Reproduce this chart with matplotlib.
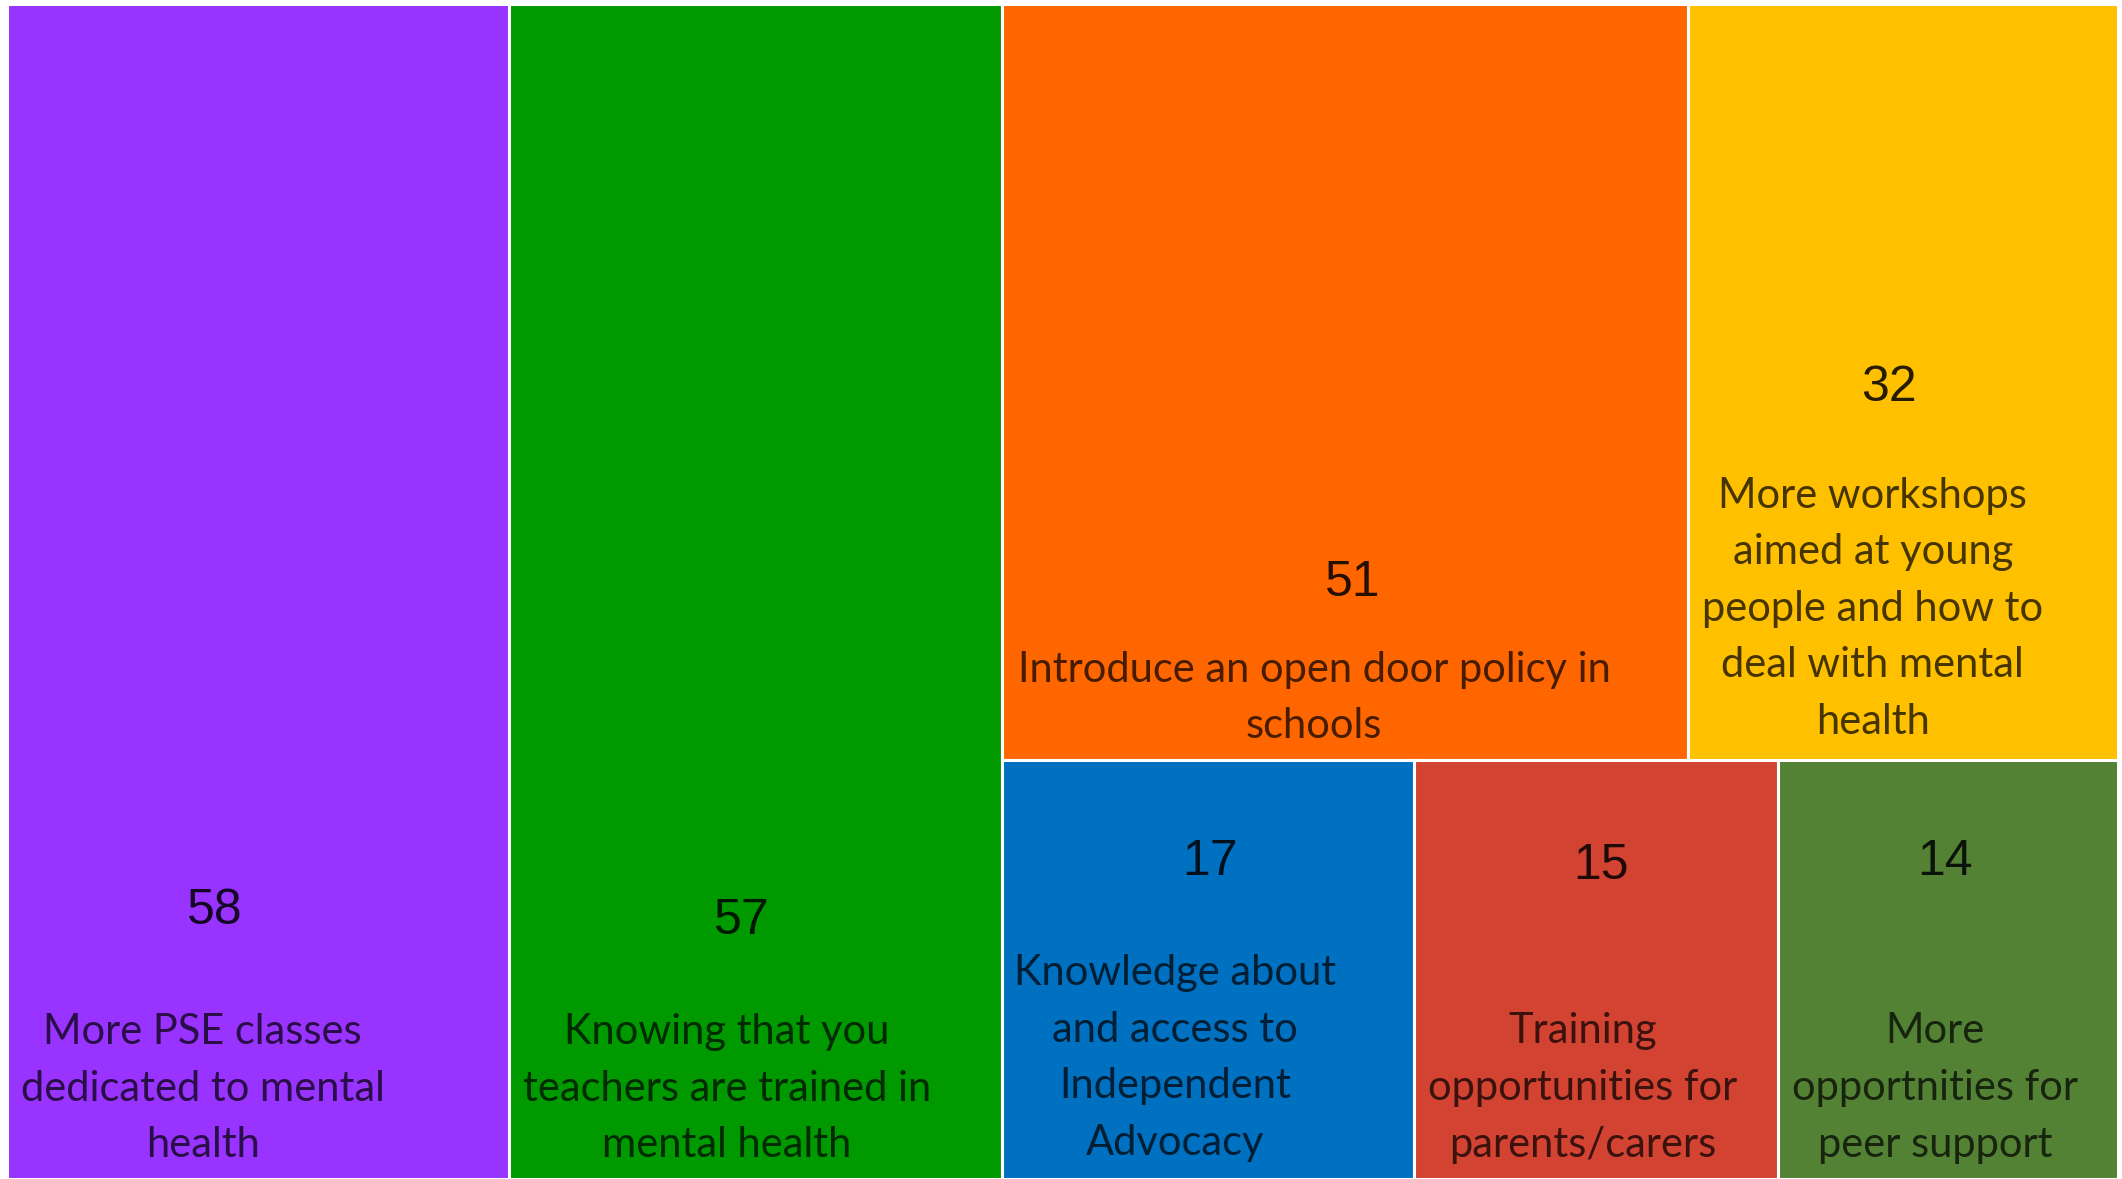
import matplotlib.pyplot as plt
from matplotlib.patches import Rectangle

# Data
values = [58, 57, 51, 32, 17, 15, 14]
labels = [
    'More PSE classes\ndedicated to mental\nhealth',
    'Knowing that you\nteachers are trained in\nmental health',
    'Introduce an open door policy in\nschools',
    'More workshops\naimed at young\npeople and how to\ndeal with mental\nhealth',
    'Knowledge about\nand access to\nIndependent\nAdvocacy',
    'Training\nopportunities for\nparents/carers',
    'More\nopportnities for\npeer support',
]
colors = ['#9933FF', '#009900', '#FF6600', '#FFC000', '#0070C0', '#D34332', '#548235']

# text anchor positions as fractions of each tile (number x, number y, label x, label y)
text_pos = [
    (0.414, 0.772, 0.39, 0.923),
    (0.473, 0.780, 0.442, 0.923),
    (0.512, 0.766, 0.455, 0.918),
    (0.467, 0.508, 0.43, 0.800),
    (0.505, 0.243, 0.42, 0.711),
    (0.514, 0.253, 0.462, 0.783),
    (0.491, 0.243, 0.462, 0.783),
]

W, H = 2122, 1179
X0, X1, Y0, Y1 = 7, 2118, 4, 1179

# Layout: two full-height columns, then a 2x/3x split of the rest
total = sum(values)
tiles = []
x = X0
for v in values[:2]:
    w = v / total * (X1 - X0)
    tiles.append((x, Y0, w, Y1 - Y0))
    x += w
rest_w = X1 - x
top, bottom = values[2:4], values[4:]
rest = sum(top) + sum(bottom)
top_h = sum(top) / rest * (Y1 - Y0)
xx = x
for v in top:
    w = v / sum(top) * rest_w
    tiles.append((xx, Y0, w, top_h))
    xx += w
xx = x
for v in bottom:
    w = v / sum(bottom) * rest_w
    tiles.append((xx, Y0 + top_h, w, Y1 - Y0 - top_h))
    xx += w

fig = plt.figure(figsize=(W / 100, H / 100), dpi=100)
ax = fig.add_axes([0, 0, 1, 1])
ax.set_xlim(0, W)
ax.set_ylim(H, 0)
ax.axis('off')

for (tx, ty, tw, th), v, lab, c, (nx, ny, lx, ly) in zip(tiles, values, labels, colors, text_pos):
    ax.add_patch(Rectangle((tx, ty), tw, th, facecolor=c, edgecolor='white', linewidth=2.2))
    ax.text(tx + nx * tw, ty + ny * th, str(v), ha='center', va='center',
            fontsize=36, family='Liberation Sans', color='black', alpha=0.85)
    ax.text(tx + lx * tw, ty + ly * th, lab, ha='center', va='center',
            fontsize=30, family='Lato', color='black', alpha=0.72, linespacing=1.6)

fig.savefig('out.png', dpi=100)
